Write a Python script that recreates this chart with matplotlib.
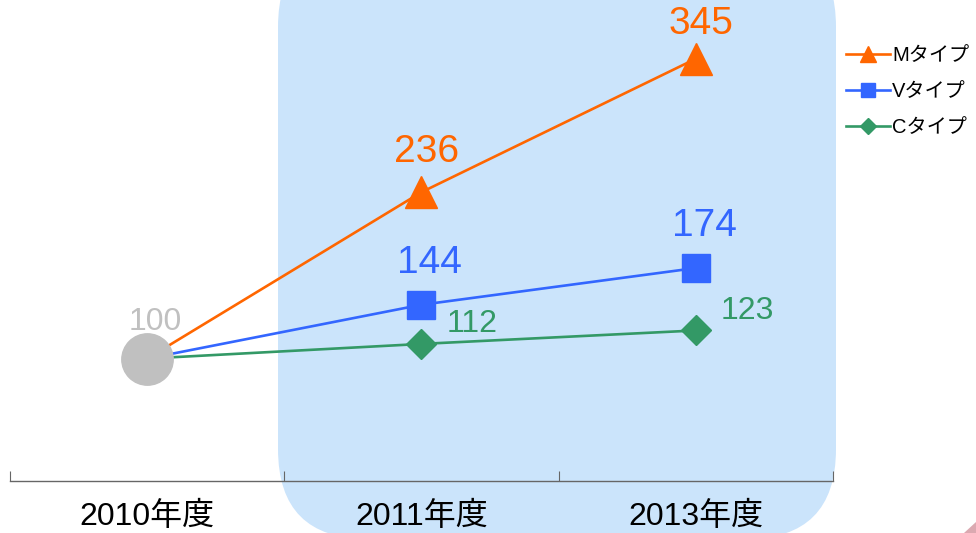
import matplotlib
matplotlib.use("Agg")
import matplotlib.pyplot as plt
from matplotlib.patches import FancyBboxPatch, Polygon
from matplotlib.lines import Line2D

plt.rcParams['font.family'] = ['Liberation Sans', 'Noto Sans CJK JP', 'DejaVu Sans']

# data
years = ["2010年度", "2011年度", "2013年度"]
m_type = [100, 236, 345]
v_type = [100, 144, 174]
c_type = [100, 112, 123]
series_names = ["Mタイプ", "Vタイプ", "Cタイプ"]

orange = "#ff6600"
blue = "#3366ff"
green = "#339966"
grey = "#c0c0c0"

fig = plt.figure(figsize=(9.76, 5.33), dpi=100)
ax = fig.add_axes([10 / 976, 52 / 533, 823 / 976, 481 / 533])
ax.set_xlim(-0.5, 2.5)
ax.set_ylim(0, 393)
ax.patch.set_alpha(0)

# light blue rounded highlight behind 2011/2013 (inches)
hl = FancyBboxPatch((2.78, -0.06), 5.58, 6.02,
                    boxstyle="round,pad=0,rounding_size=0.9",
                    transform=fig.dpi_scale_trans, facecolor="#cbe4fb",
                    edgecolor="none", zorder=0, clip_on=False)
ax.add_patch(hl)

# small pink corner
ax.add_patch(Polygon([(964 / 976, 0), (1, 0), (1, 11 / 533)], closed=True,
                     transform=fig.transFigure, facecolor="#dba9b1",
                     edgecolor="none", clip_on=False))

x = range(len(years))
ax.plot(x, m_type, color=orange, lw=1.9, zorder=2)
ax.plot(x, v_type, color=blue, lw=1.9, zorder=2)
ax.plot(x, c_type, color=green, lw=1.9, zorder=2)
ax.plot(x[1:], m_type[1:], ls="none", marker="^", ms=23, color=orange, zorder=3)
ax.plot(x[1:], v_type[1:], ls="none", marker="s", ms=20, color=blue, zorder=3)
ax.plot(x[1:], c_type[1:], ls="none", marker="D", ms=15, color=green, zorder=3)
ax.plot([0], [m_type[0]], ls="none", marker="o", ms=37, color=grey, zorder=4)

# value labels
m_dy = {1: 29, 2: 25}
for i in range(1, 3):
    ax.annotate(str(m_type[i]), (i, m_type[i]), xytext=(4, m_dy[i]), textcoords="offset points",
                ha="center", va="center", fontsize=28, color=orange)
    ax.annotate(str(v_type[i]), (i, v_type[i]), xytext=(6, 30), textcoords="offset points",
                ha="center", va="center", fontsize=28, color=blue)
    ax.annotate(str(c_type[i]), (i, c_type[i]), xytext=(18, 14), textcoords="offset points",
                ha="left", va="center", fontsize=23, color=green)
ax.annotate(str(m_type[0]), (0, m_type[0]), xytext=(6, 26), textcoords="offset points",
            ha="center", va="center", fontsize=23, color=grey)

# axes styling
for s in ["top", "right", "left"]:
    ax.spines[s].set_visible(False)
ax.spines["bottom"].set_color("#666666")
ax.spines["bottom"].set_linewidth(1)
ax.set_yticks([])
ax.set_xticks([-0.5, 0.5, 1.5, 2.5])
ax.set_xticklabels([])
ax.tick_params(axis="x", which="major", direction="in", length=7, color="#666666")
ax.set_xticks(list(x), minor=True)
ax.set_xticklabels(years, minor=True, fontsize=23)
ax.tick_params(axis="x", which="minor", length=0, pad=15)

handles = [
    Line2D([], [], color=orange, lw=1.9, marker="^", ms=11),
    Line2D([], [], color=blue, lw=1.9, marker="s", ms=10),
    Line2D([], [], color=green, lw=1.9, marker="D", ms=8),
]
fig.legend(handles, series_names, loc="upper left", bbox_to_anchor=(846 / 976, 1 - 46 / 533),
           frameon=False, fontsize=14.5, handlelength=2.2, handletextpad=0.1,
           labelspacing=0.85, borderaxespad=0, borderpad=0)

fig.savefig("out.png", dpi=100)
